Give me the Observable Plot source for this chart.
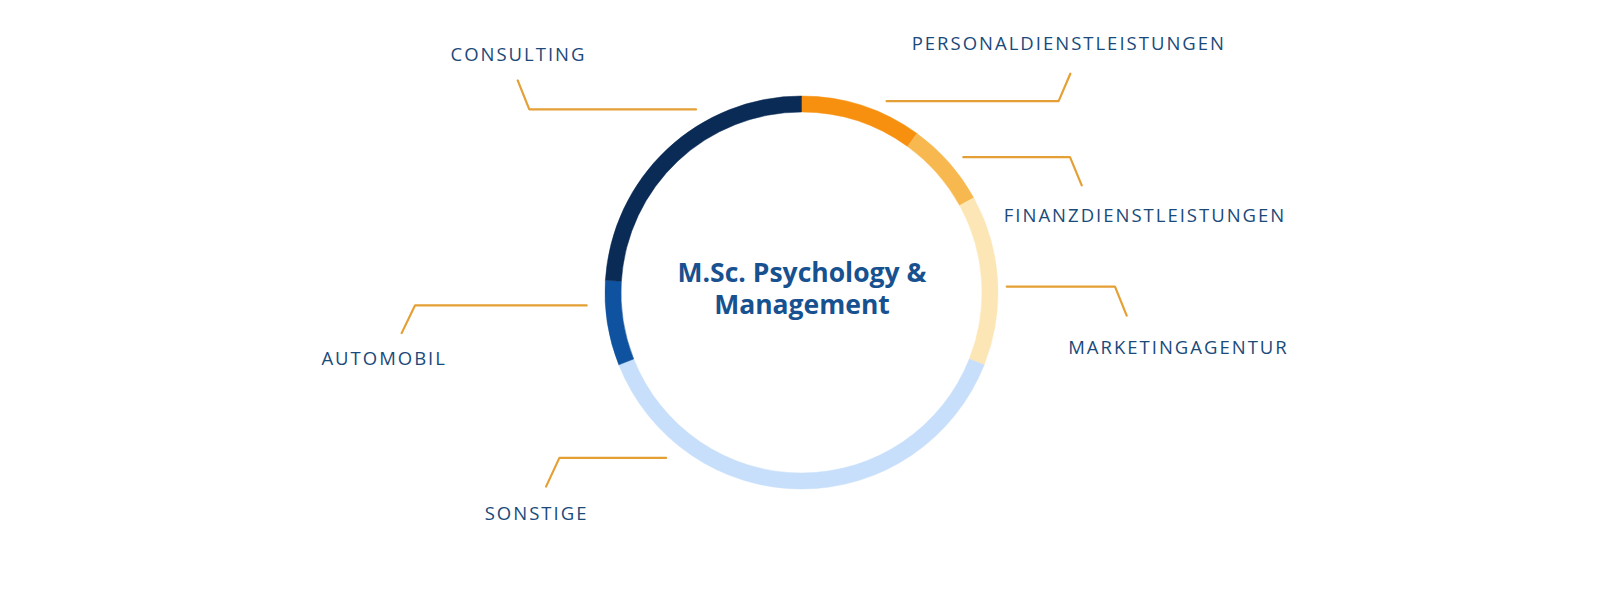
<!DOCTYPE html>
<html>
<head>
<meta charset="utf-8">
<script src="https://cdn.jsdelivr.net/npm/d3@7"></script>
<script src="https://cdn.jsdelivr.net/npm/@observablehq/plot@0.6"></script>
<style>
  html, body { margin: 0; padding: 0; background: #ffffff; }
  #chart { width: 1600px; height: 600px; }
  .lbl text { letter-spacing: 2px; }
</style>
</head>
<body>
<div id="chart"></div>
<script>
// ---- data ----
const categories = ["PERSONALDIENSTLEISTUNGEN", "FINANZDIENSTLEISTUNGEN", "MARKETINGAGENTUR", "SONSTIGE", "AUTOMOBIL", "CONSULTING"];
const shares = [10, 7, 14, 38, 7, 24];
const titleLines = ["M.Sc. Psychology &", "Management"];

// ---- styles / layout ----
const segmentColors = ["#f7900f", "#f8b850", "#fde6b6", "#c7dffa", "#0f52a0", "#0a2b55"];
const textColor = "#1a4a7a";
const titleColor = "#17518f";
const leaderColor = "#e5a035";
const center = [801.5, 292.5];
const rOuter = 196.5, rInner = 180.5;
// per label: leader start angle (deg, clockwise from top), start radius, horizontal length (signed),
// kink dx, kink dy, label dx, label dy (relative to kink end)
const leaderLayout = [
  [23.8, 209.7, 172, 11.7, -27.4, -1.5, -24],
  [49.9, 210.9, 106.7, 11.7, 28.3, 63.3, 36.4],
  [88.2, 204.8, 108.3, 11.7, 29, 51.8, 38],
  [219.5, 213.7, -106.7, -13.3, 28.7, -9.5, 33.5],
  [266.7, 215.7, -171.7, -13.3, 27.7, -17.5, 31.8],
  [330, 212, -166.7, -11.6, -29, 0.8, -19.5]
];

const rows = categories.map((c, i) => ({category: c, value: shares[i], color: segmentColors[i]}));

// leader polylines and label anchors derived from layout
const leaderPts = [];
const labelRows = [];
categories.forEach((c, i) => {
  const [ang, r, hl, kdx, kdy, tdx, tdy] = leaderLayout[i];
  const a = ang * Math.PI / 180;
  const x0 = center[0] + r * Math.sin(a), y0 = center[1] - r * Math.cos(a);
  const x1 = x0 + hl, y1 = y0;
  const x2 = x1 + kdx, y2 = y1 + kdy;
  leaderPts.push({category: c, x: x0, y: y0}, {category: c, x: x1, y: y1}, {category: c, x: x2, y: y2});
  labelRows.push({category: c, x: x2 + tdx, y: y2 + tdy});
});

function ring(index, scales, values, dimensions, context) {
  const cx = scales.x ? scales.x(center[0]) : center[0];
  const cy = scales.y ? scales.y(center[1]) : center[1];
  const pie = d3.pie().sort(null).value(d => d.value)(rows);
  const arc = d3.arc().innerRadius(rInner).outerRadius(rOuter);
  const g = d3.create("svg:g").attr("transform", `translate(${cx},${cy})`);
  g.selectAll("path").data(pie).join("path")
    .attr("d", arc)
    .attr("fill", d => d.data.color)
    .attr("stroke", d => d.data.color)
    .attr("stroke-width", 0.5);
  return g.node();
}

const titleRows = [{t: titleLines.join("\n"), x: center[0], y: 313}];

const chart = Plot.plot({
  width: 1600,
  height: 600,
  margin: 0,
  x: {domain: [0, 1600], range: [0, 1600], axis: null},
  y: {domain: [0, 600], range: [0, 600], axis: null},
  style: {background: "#ffffff", fontFamily: "'Open Sans', 'Noto Sans', sans-serif"},
  marks: [
    Plot.line(leaderPts, {x: "x", y: "y", z: "category", stroke: leaderColor, strokeWidth: 2.2, strokeLinejoin: "miter", curve: "linear"}),
    ring,
    Plot.text(labelRows, {x: "x", y: "y", text: "category", textAnchor: "middle", lineAnchor: "bottom",
      fill: textColor, fontSize: 18.5, fontFamily: "'Open Sans', sans-serif", className: "lbl"}),
    Plot.text(titleRows, {x: "x", y: "y", text: "t", textAnchor: "middle", lineAnchor: "bottom", lineHeight: 1.19,
      fill: titleColor, fontSize: 26.5, fontWeight: "bold", fontFamily: "'Open Sans', sans-serif"})
  ]
});
document.getElementById("chart").appendChild(chart);
</script>
</body>
</html>
